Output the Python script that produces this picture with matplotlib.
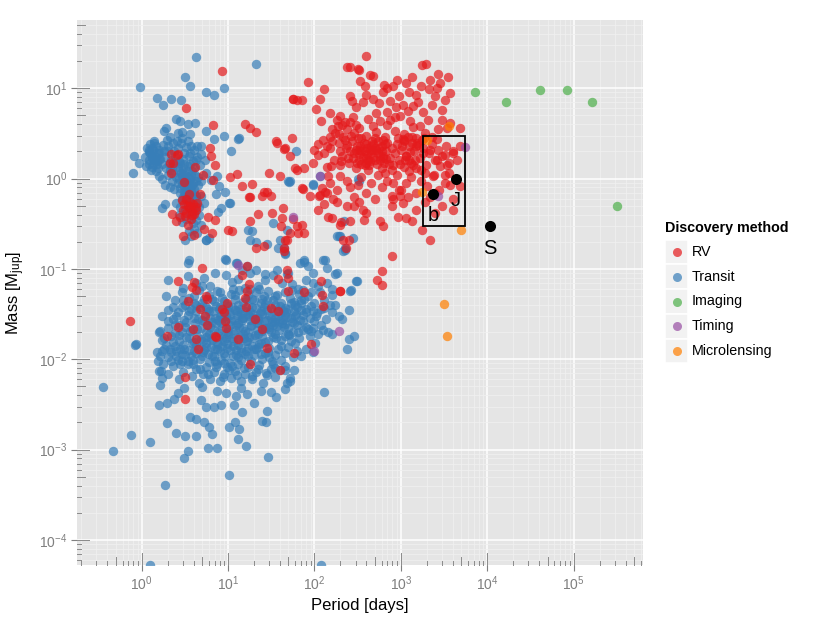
import matplotlib
matplotlib.use('Agg')
import matplotlib.pyplot as plt
from matplotlib.patches import Rectangle
from matplotlib.lines import Line2D

plt.rcParams['font.family'] = ['Liberation Sans', 'DejaVu Sans']
plt.rcParams['mathtext.fontset'] = 'custom'
plt.rcParams['mathtext.rm'] = 'Liberation Sans'
plt.rcParams['mathtext.it'] = 'Liberation Sans:italic'
plt.rcParams['mathtext.bf'] = 'Liberation Sans:bold'

# ---------------- data: (period [days], mass [M_jup]) ----------------
transit = [
    # upper scattered
    (4.3,22),(21,18.5),(0.95,10.3),(3.2,13.5),(3.6,10.5),(5.6,9.0),(6.8,8.5),(8.9,10.1),(1.5,7.8),(1.76,6.6),(2.2,7.7),(2.87,7.4),
    # hot Jupiters
    (2.5,4.6),(2.75,4.3),(3.4,4.0),(4.1,4.1),(1.9,3.6),(1.8,3.4),(2.95,3.3),(3.6,3.1),(5.5,3.4),(6.8,2.75),(8.9,3.0),(13.3,2.8),
    (1.39,2.48),(1.33,2.19),(1.22,2.1),(1.58,2.1),(1.8,2.0),(0.81,1.8),(0.93,1.5),(0.79,1.15),(1.11,1.39),(1.27,1.26),(1.45,1.2),
    (1.58,1.06),(1.73,0.98),(2.6,3.2),(2.95,2.8),(3.4,2.6),(3.7,2.3),(4.0,2.1),(4.4,2.3),(4.8,2.3),(3.05,1.94),(3.5,1.76),(2.8,1.49),
    (3.4,1.37),(3.85,1.2),(2.95,1.06),(2.6,0.9),(2.26,0.93),(2.36,0.76),(2.8,0.69),(3.4,0.69),(4.0,0.76),(4.8,0.64),(5.2,0.54),
    (4.6,0.49),(3.7,0.54),(2.8,0.49),(2.47,0.54),(5.5,1.15),(6.3,0.97),(7.5,1.06),(7.8,0.82),(9.3,0.72),(7.3,0.68),(10.2,0.54),
    (8.2,0.47),(1.86,0.52),(1.73,0.47),(4.2,0.35),(4.8,0.31),(4.0,0.28),(5.5,0.21),(6.0,0.22),(3.2,0.21),(10.9,2.0),(13.0,2.77),
    (1.3,1.7),(1.5,1.55),(1.7,1.45),(1.9,1.3),(2.1,1.25),(2.3,1.15),(2.5,1.05),(2.7,1.2),(3.0,1.3),(3.2,1.1),(3.3,0.95),(3.6,1.0),
    (3.9,0.9),(4.2,0.95),(4.5,0.85),(3.1,0.8),(3.5,0.8),(2.9,0.6),(3.3,0.58),(3.8,0.62),(4.3,0.6),(2.2,1.6),(2.4,1.8),(2.0,2.0),
    (2.6,2.2),(2.3,2.5),(2.0,2.3),(1.6,1.9),(1.45,1.75),(1.2,1.6),(1.25,1.9),(3.9,1.55),(4.4,1.75),(3.0,1.65),(2.7,1.55),(3.6,1.45),
    (4.0,1.3),(4.7,1.4),(3.2,0.45),(3.7,0.4),(4.1,0.44),(3.3,0.36),(2.9,0.33),(3.9,0.32),(3.5,0.26),(3.7,0.23),(4.4,0.25),
    (1.35,1.45),(1.55,1.3),(1.65,1.65),(1.85,1.75),(2.05,1.45),(2.25,1.35),(2.45,1.5),(2.65,1.35),(2.85,1.15),(3.05,1.45),
    (3.15,0.95),(3.45,1.2),(3.75,1.1),(4.1,1.1),(3.05,0.72),(3.25,0.75),(3.6,0.66),(4.5,1.05),(4.9,0.95),(2.35,2.0),(2.55,2.6),
    (2.85,2.45),(3.25,2.25),(1.95,2.7),(2.15,2.9),(1.4,2.6),(1.75,2.35),(3.65,1.9),(4.2,1.6),(4.9,1.85),(5.4,1.6),(2.0,1.1),
    (1.85,0.85),(2.15,0.8),(3.55,0.57),(4.25,0.52),(3.9,0.47),(2.7,0.4),(4.6,0.4),(3.4,0.52),
    (1.15,2.2),(1.2,1.95),(1.25,2.4),(1.3,1.8),(1.35,2.05),(1.4,1.6),(1.45,2.3),(1.5,1.45),(1.55,1.9),(1.6,1.65),(1.1,1.75),
    (1.2,1.45),(1.3,1.35),(2.7,1.0),(2.9,0.88),(3.0,1.15),(3.1,0.98),(3.3,0.85),(3.4,1.05),(3.5,0.92),(3.6,0.78),(3.8,0.85),
    (4.0,0.7),(3.2,0.68),(3.5,0.6),(3.0,0.62),(2.8,0.78),(3.7,0.73),(4.2,0.65),
    # intermediate
    (19,0.26),(21,0.2),(33,0.32),(38,0.17),(50,0.93),(61,2.0),(9.3,0.13),(3.5,0.127),(51,0.91),(96,0.87),(330,0.95),(115,1.06),
    (52,0.93),(95,0.86),(320,1.0),(44,0.17),(46,0.145),(48,0.27),(28,0.19),(180,0.23),(200,0.23),(225,0.17),(220,0.34),(7.7,0.43),
    (10.5,0.54),(5.6,0.21),(17,0.27),(18,0.21),(40,0.21),(46,0.15),(75,0.127),(280,0.22),(225,0.164),(190,0.23),
    (3.45,0.117),(9.5,0.127),(12.2,0.117),(16.6,0.107),(21,0.098),(27,0.087),(37,0.098),(50,0.091),(68,0.117),(85,0.107),
    (133,0.127),(140,0.103),(180,0.091),(300,0.074),(265,0.058),(14.5,0.098),(76,0.12),(215,0.157),(127,0.127),(172,0.087),
    (97,0.07),(74,0.059),(310,0.073),(260,0.057),(158,0.052),(12.7,0.117),
    # dense small-planet cloud
    (2.0,0.075),(3.4,0.083),(5.3,0.08),(7.0,0.09),(9.5,0.085),(11,0.072),(13,0.078),(18,0.09),(22,0.065),(27,0.075),(33,0.085),
    (42,0.07),(55,0.068),(65,0.06),(80,0.075),(95,0.09),(110,0.065),(140,0.07),(160,0.06),(6.2,0.065),(4.3,0.07),(15.5,0.062),
    (48,0.088),(3.0,0.062),
    (1.9,0.05),(2.4,0.045),(2.9,0.055),(3.5,0.048),(4.0,0.042),(4.6,0.058),(5.3,0.047),(6.0,0.052),(6.8,0.044),(7.5,0.057),
    (8.5,0.048),(9.6,0.041),(10.8,0.053),(12,0.046),(13.5,0.058),(15,0.043),(17,0.051),(19,0.046),(21,0.055),(24,0.042),(26,0.05),
    (29,0.057),(33,0.045),(37,0.052),(41,0.042),(46,0.055),(52,0.048),(58,0.043),(66,0.053),(75,0.046),(85,0.05),(100,0.042),
    (115,0.055),(130,0.045),(150,0.04),(3.2,0.04),(11.5,0.06),(23,0.06),
    (1.7,0.03),(2.0,0.035),(2.3,0.028),(2.6,0.033),(2.9,0.038),(3.1,0.027),(3.4,0.031),(3.7,0.036),(4.0,0.029),(4.3,0.034),
    (4.7,0.038),(5.0,0.027),(5.4,0.032),(5.8,0.036),(6.2,0.029),(6.7,0.034),(7.2,0.039),(7.7,0.027),(8.3,0.031),(8.9,0.036),
    (9.5,0.028),(10.2,0.033),(11,0.038),(11.8,0.027),(12.7,0.031),(13.6,0.036),(14.6,0.029),(15.7,0.034),(16.8,0.039),(18,0.027),
    (19.5,0.032),(21,0.037),(22.5,0.029),(24,0.034),(26,0.038),(28,0.027),(30,0.031),(32,0.036),(34.5,0.029),(37,0.034),(40,0.039),
    (43,0.027),(46,0.031),(50,0.036),(54,0.029),(58,0.034),(63,0.038),(68,0.027),(74,0.031),(80,0.036),(88,0.029),(96,0.034),
    (105,0.03),(118,0.036),(135,0.028),(160,0.033),(190,0.03),(8.0,0.03),(12,0.035),(17.5,0.03),(25,0.032),(35,0.026),(45,0.037),
    (60,0.03),(70,0.035),(210,0.028),(175,0.04),(250,0.035),
    (1.6,0.02),(1.8,0.017),(2.0,0.022),(2.2,0.018),(2.4,0.024),(2.7,0.016),(2.9,0.02),(3.2,0.023),(3.5,0.017),(3.8,0.021),
    (4.1,0.025),(4.4,0.018),(4.8,0.022),(5.1,0.016),(5.5,0.02),(5.9,0.024),(6.3,0.017),(6.8,0.021),(7.3,0.025),(7.8,0.018),
    (8.4,0.022),(9.0,0.016),(9.7,0.02),(10.4,0.024),(11.2,0.017),(12,0.021),(12.9,0.025),(13.8,0.018),(14.8,0.022),(16,0.016),
    (17.2,0.02),(18.5,0.024),(20,0.017),(21.5,0.021),(23,0.025),(25,0.018),(27,0.022),(29,0.016),(31,0.02),(33.5,0.024),(36,0.017),
    (39,0.021),(42,0.025),(45,0.018),(49,0.022),(53,0.016),(57,0.02),(62,0.024),(67,0.017),(73,0.021),(80,0.023),(88,0.018),
    (97,0.022),(110,0.019),(125,0.021),(145,0.02),(6.0,0.019),(10,0.019),(15,0.019),(22,0.019),(30,0.023),(50,0.019),
    (1.5,0.012),(1.65,0.011),(1.8,0.013),(2.0,0.0105),(2.2,0.012),(2.4,0.014),(2.6,0.0098),(2.9,0.0115),(3.1,0.013),(3.4,0.0095),
    (3.7,0.011),(4.0,0.0125),(4.3,0.0145),(4.7,0.0102),(5.1,0.012),(5.5,0.0138),(6.0,0.0093),(6.5,0.011),(7.0,0.013),(7.6,0.0148),
    (8.2,0.0099),(8.9,0.0117),(9.6,0.0134),(10.4,0.0092),(11.3,0.011),(12.2,0.0128),(13.2,0.0145),(14.3,0.0098),(15.5,0.0115),
    (16.8,0.0133),(18.2,0.0095),(19.7,0.0112),(21.3,0.013),(23,0.0147),(25,0.01),(27,0.0118),(29.5,0.0135),(32,0.0095),
    (35,0.0112),(38,0.013),(41,0.0099),(45,0.0118),(50,0.0136),(56,0.0105),(62,0.0125),(70,0.011),(80,0.013),(95,0.012),
    (1.7,0.0125),(2.5,0.0125),
    (1.6,0.0075),(2.0,0.0068),(2.3,0.0085),(2.7,0.006),(3.0,0.0072),(3.4,0.0088),(3.8,0.0065),(4.2,0.0078),(4.6,0.0055),
    (5.1,0.0068),(5.6,0.0083),(6.2,0.006),(6.8,0.0073),(7.4,0.0088),(8.1,0.0057),(8.9,0.0068),(9.8,0.0082),(10.8,0.0062),
    (11.9,0.0075),(13,0.0088),(14.3,0.0058),(15.7,0.0069),(17.2,0.0082),(19,0.006),(21,0.0073),(23,0.0087),(25.5,0.0055),
    (28,0.0067),(31,0.0079),(35,0.0063),(40,0.0076),(46,0.0085),(52,0.0062),(58,0.0077),(48,0.0054),
    (5.5,0.015),(6.5,0.026),(7.5,0.013),(8.5,0.028),(9.5,0.017),(10.5,0.031),(11.5,0.014),(12.5,0.024),(14,0.012),(15,0.029),
    (16.5,0.016),(18,0.033),(20,0.013),(22,0.027),(24,0.015),(26.5,0.022),(29,0.012),(32,0.026),(35,0.019),(38,0.03),(41,0.014),
    (44,0.023),(47,0.033),(55,0.026),(60,0.015),(4.5,0.028),(3.8,0.015),(3.3,0.026),(2.8,0.013),(2.5,0.03),(7,0.0095),(9,0.009),
    (11,0.0085),(13,0.0105),(17,0.011),(24,0.0115),(30,0.0105),(6,0.034),(8,0.038),(13,0.04),(20,0.045),(28,0.045),(18,0.06),
    (8,0.055),(5,0.065),
    (2.1,0.013),(2.3,0.0155),(2.5,0.011),(2.7,0.0185),(2.8,0.0088),(3.0,0.0145),(3.2,0.0112),(3.3,0.0175),(3.5,0.0128),
    (3.6,0.0205),(3.9,0.0098),(4.0,0.0155),(4.2,0.0118),(4.4,0.0215),(4.6,0.0135),(4.9,0.0168),(5.0,0.0108),(5.2,0.0265),
    (5.3,0.0128),(5.6,0.0178),(5.8,0.0115),(6.1,0.0225),(6.3,0.0138),(6.6,0.0162),(6.9,0.0108),(7.1,0.0285),(7.4,0.0152),
    (7.7,0.0198),(8.0,0.0122),(8.3,0.0255),(8.6,0.0142),(8.8,0.0178),(9.2,0.0108),(9.4,0.0305),(9.8,0.0148),(10.1,0.0215),
    (10.6,0.0128),(10.9,0.0265),(11.4,0.0158),(11.8,0.0192),(12.3,0.0112),(12.6,0.0345),(13.1,0.0165),(13.5,0.0228),
    (14.0,0.0135),(14.5,0.0275),(15.1,0.0172),(15.8,0.0208),(16.3,0.0125),(16.9,0.0315),(17.5,0.0178),(18.3,0.0235),
    (19.0,0.0142),(19.8,0.0285),(20.6,0.0185),(21.5,0.0255),(22.4,0.0138),(23.5,0.0325),(24.6,0.0205),(25.8,0.0268),
    (27.0,0.0155),(28.5,0.0355),(29.8,0.0215),(31.2,0.0285),(33.0,0.0175),(34.8,0.0395),(36.5,0.0232),(38.5,0.0268),
    (40.5,0.0162),(43.0,0.0345),(45.5,0.0245),(48.0,0.0295),(51.0,0.0185),(54.0,0.0415),(57.5,0.0255),(61.0,0.0315),
    (65.0,0.0198),(69.0,0.0425),(74.0,0.0265),(79.0,0.0335),(85.0,0.0215),(91.0,0.0385),(100,0.0265),(108,0.0325),(118,0.024),
    (130,0.037),(4.7,0.0078),(5.9,0.0068),(7.2,0.0082),(8.7,0.0064),(10.3,0.0076),(12.8,0.0067),(15.2,0.0081),(18.8,0.0066),
    (22.5,0.0078),(27.5,0.0071),(33.5,0.0088),(2.2,0.0095),(2.9,0.0095),(3.9,0.0088),(2.4,0.0195),(2.0,0.0265),(2.3,0.038),
    (3.0,0.045),(4.0,0.05),(5.0,0.042),(6.5,0.047),(9.0,0.044),(12.0,0.052),(16,0.047),(25,0.046),(35,0.05),(55,0.058),
    (70,0.045),(90,0.055),(7.8,0.036),(10.0,0.039),(14.0,0.032),(19.0,0.038),(27.0,0.041),(40,0.033),(60,0.04),(3.5,0.034),
    (4.2,0.04),(5.5,0.038),(2.7,0.024),(1.9,0.0145),(1.7,0.0165),(1.55,0.0095),(1.75,0.0088),
    (5.0,0.0049),(7.5,0.0044),(12.5,0.0039),(36,0.0038),(14,0.0048),(24,0.0045),(9.5,0.0042),
    # sparse low-mass tail
    (0.36,0.0049),(0.46,0.00096),(0.75,0.00144),(0.85,0.0146),(0.84,0.0143),(1.24,0.00121),(1.86,0.00041),(1.95,0.00196),
    (2.47,0.00154),(3.16,0.00141),(4.2,0.00141),(3.45,0.00096),(3.08,0.0008),(3.6,0.0023),(4.2,0.0022),(5.2,0.002),(6.0,0.0018),
    (6.6,0.0015),(5.8,0.00103),(7.5,0.00103),(10.2,0.00052),(10.2,0.0018),(12,0.002),(13.3,0.0017),(13,0.0013),(16,0.0011),
    (14.5,0.0026),(25,0.0021),(27.5,0.002),(28,0.0027),(29,0.00083),(130,0.0043),(240,0.0129),(250,0.0166),(290,0.0183),
    (1.25,5.3e-5),(120,5.3e-5),(1.63,0.0204),(1.66,0.0075),(1.73,0.0062),(1.61,0.0052),(1.6,0.0031),(1.95,0.0033),(2.36,0.0036),
    (2.6,0.0042),(3.1,0.0048),(4.8,0.0035),(5.5,0.003),(6.8,0.003),(8.2,0.0031),(11.6,0.0031),(16.6,0.0041),(19.8,0.0033),
    (31,0.0043),(35,0.0081),(46,0.0077),(52,0.0057),(46,0.0047),(90,0.0204),(102,0.015),(160,0.019),
]

rv = [
    # short-period giants
    (8.4,15.4),(3.3,6.0),(6.7,3.9),(6.1,2.2),(6.3,1.8),(7.1,1.4),(2.16,1.87),(2.6,1.87),(2.1,1.5),(2.2,1.16),(4.1,1.33),(5.1,1.09),
    (6.7,0.97),(3.1,0.91),(3.5,0.68),(4.7,0.68),(3.1,0.52),(3.5,0.47),(4.4,0.54),(3.0,0.45),(3.3,0.42),(3.8,0.44),(4.2,0.48),
    (2.26,0.41),(2.8,0.38),(3.4,0.31),(3.0,0.23),(4.0,0.24),(5.2,0.28),(5.9,0.38),(7.0,0.35),(6.5,0.25),(11,0.26),(2.56,1.84),
    (2.33,1.49),(2.9,0.58),(3.6,0.5),(4.0,0.41),(3.2,0.39),(3.7,0.36),(2.5,0.34),(9.9,0.27),
    (3.3,0.6),(3.6,0.55),(3.9,0.52),(3.4,0.5),(3.8,0.4),(4.3,0.45),
    # intermediate periods
    (10.6,1.04),(12.7,1.13),(14.5,0.82),(19,0.87),(18,0.63),(26,0.72),(31,0.64),(25,0.64),(15.9,4.0),(18,3.6),(21,3.3),(37,2.5),
    (44,2.13),(55,2.8),(52,1.8),(40,1.08),(57,7.6),(63,7.5),(32,0.42),(43,0.47),(22,0.41),(18,0.34),(57,0.36),(41,0.30),(48,0.21),
    (44,0.17),(21,0.17),(26,0.18),(60,1.3),(42,0.37),(52,0.25),(62,0.30),(75,0.25),(17.6,0.63),(28,0.72),(30,1.15),
    (113,0.64),(133,0.72),(165,0.59),(160,0.37),(237,0.5),(203,0.33),(250,0.21),(98,2.1),(111,1.84),(138,2.3),(127,2.7),
    (157,1.37),(145,1.06),(121,0.79),(138,0.69),(89,0.64),(84,11.7),(130,9.8),(57,7.7),(72,7.4),(117,7.6),(105,5.9),
    (153,5.3),(200,4.9),(120,4.3),(160,3.5),(180,4.5),(190,3.1),(225,2.7),(36,2.6),(45,2.2),(63,1.26),(72,0.79),(74,0.76),
    (117,0.66),(130,0.52),(145,0.38),(200,0.31),(72,0.31),(65,0.25),(46,0.21),(215,0.21),(230,0.17),(110,0.45),(180,0.55),
    # long-period giant cluster
    (390,23),(240,17),(330,16),(1750,18),(1950,18.5),(255,17),(320,16.3),(260,8.3),(270,7.2),(340,12),(385,10.5),(440,14),
    (480,13.6),(640,11),(690,10.1),(1160,11.4),(1330,13.5),(2160,12.4),(2820,11.4),(2600,10),(2100,9.8),(1500,8.4),(1580,7.1),
    (2500,8.2),(400,8.5),(480,7.6),(560,6.8),(620,9),(750,7.2),(870,6.2),(950,8.3),(1050,6.6),(1200,5.6),(1400,6.3),(1800,5.4),
    (2300,6.5),(3000,5.8),(520,5.3),(700,5.5),(300,6.2),(360,7),(820,10.5),(900,12.5),(1250,9.2),(1700,10.5),(3200,7.5),
    (3700,8.8),(2700,14.5),(3500,13.5),
    (330,3.6),(480,3.8),(575,4.3),(750,4.5),(980,4.9),(1270,4.3),(1660,3.8),(2050,4.5),(2700,3.5),(3400,3.6),(3700,4.1),(4800,3.6),
    (260,4.2),(290,3.2),(400,3.0),(420,4.6),(520,3.3),(650,2.9),(700,3.9),(850,3.4),(1100,3.1),(1400,3.7),(1500,2.8),(1900,3.2),
    (2300,2.9),(860,4.8),(620,2.7),(350,2.8),(280,4.8),(210,3.9),(150,2.9),(1050,2.75),(2600,2.75),(3000,4.5),
    (110,2.4),(130,1.9),(150,2.2),(170,1.6),(190,2.5),(210,1.8),(230,2.2),(250,1.5),(270,2.6),(290,1.9),(310,2.3),(330,1.6),
    (350,2.0),(370,2.5),(390,1.7),(410,2.2),(430,1.4),(450,1.9),(470,2.4),(500,1.6),(520,2.1),(550,2.6),(580,1.8),(610,2.3),
    (640,1.5),(670,2.0),(700,2.5),(740,1.7),(780,2.2),(820,1.4),(860,1.9),(900,2.4),(950,1.6),(1000,2.1),(1080,2.6),(1150,1.8),
    (1230,2.3),(1320,1.5),(1420,2.0),(1530,2.5),(1650,1.7),(1800,2.2),(1950,1.4),(2100,1.9),(2300,2.4),(2500,1.6),(2700,2.1),
    (3000,1.8),(3300,2.3),(3600,1.5),(4000,2.0),(4500,1.6),(300,1.3),(420,1.25),(600,1.3),(800,1.25),(1100,1.35),(1500,1.3),
    (380,2.0),(440,2.1),(480,1.75),(560,2.2),(360,1.75),(260,2.0),(200,1.4),(140,1.35),(95,1.5),(75,1.3),(340,2.3),(460,2.6),
    (540,1.9),(620,1.7),(400,1.5),(330,2.1),(720,1.45),(1250,1.6),(280,1.7),(310,1.5),(320,2.8),(380,1.4),(420,1.6),(450,2.3),
    (500,2.8),(530,1.45),(600,2.0),(650,2.4),(680,1.65),(300,2.05),(350,1.45),(410,1.85),(470,2.05),(570,1.6),(440,1.55),
    (390,2.4),(330,1.85),(500,2.2),(620,1.8),
    (160,2.6),(175,3.2),(195,2.0),(215,2.9),(235,3.5),(245,1.7),(265,3.0),(205,1.55),(185,3.8),(240,2.35),(300,3.9),(225,4.2),
    (920,2.8),(980,1.45),(1030,2.3),(1120,1.6),(1200,2.9),(1280,1.95),(1350,2.5),(1450,1.6),(1600,2.35),(1700,1.25),(1850,2.8),
    (1250,1.2),
    (1100,2.7),(1330,2.9),(1500,2.3),(1750,2.7),(1150,1.77),(1400,1.43),(1800,1.92),(2200,2.1),(2600,1.62),(3250,1.84),
    (2850,1.37),(3400,1.43),(4000,1.92),(4800,2.28),(1900,1.15),(2350,1.06),(2000,0.82),(2500,0.69),(3250,1.1),(3700,0.86),
    (4800,0.82),(820,0.9),(940,0.75),(985,0.64),(820,0.59),(1070,0.54),(1160,0.37),(1330,0.34),
    (200,1.06),(150,0.9),(180,0.75),(240,0.95),(290,0.63),(320,0.85),(350,1.05),(400,0.7),(450,0.9),(500,0.6),(550,1.1),
    (600,0.8),(700,0.95),(800,0.65),(900,1.1),(1000,0.75),(1150,0.9),(1300,1.05),(1500,0.7),(1700,0.95),(2400,1.1),
    (2800,0.75),(3200,0.9),(2200,0.62),(4000,0.6),(3600,1.15),(260,0.8),(650,1.15),(1200,0.62),(290,0.5),(330,0.55),(360,0.45),
    (400,0.42),(260,0.34),(370,0.35),(575,0.34),(620,0.3),(930,0.38),(1750,0.27),(2200,0.21),(800,0.5),(1500,0.45),(2500,0.42),
    (3000,0.5),(1900,0.55),(4000,0.45),
    (780,0.138),(600,0.094),(530,0.076),(600,0.067),(200,0.057),(44,0.16),
    # low-mass RV planets
    (0.73,0.0267),(2.65,0.073),(4.0,0.072),(4.2,0.059),(3.85,0.063),(5.0,0.102),(3.4,0.044),(5.5,0.05),(5.7,0.046),(4.7,0.036),
    (2.6,0.0228),(1.95,0.0183),(3.9,0.0214),(4.2,0.0166),(4.5,0.013),(5.4,0.030),(5.7,0.024),(7.1,0.0183),(8.5,0.036),
    (8.9,0.033),(9.3,0.0265),(9.5,0.0224),(9.7,0.042),(16.6,0.107),(14.5,0.085),(17.3,0.069),(16.6,0.057),(15.8,0.048),
    (12.9,0.0168),(16.3,0.038),(20.3,0.028),(25,0.0217),(28,0.0132),(31.5,0.037),(38,0.034),(38,0.078),(50,0.08),(48,0.098),
    (50,0.057),(75,0.055),(120,0.073),(123,0.052),(125,0.039),(195,0.057),(90,0.0149),(58,0.0116),(40,0.0076),(18,0.0088),
    (3.2,0.0063),(3.2,0.0036),(7.2,0.0175),
]

imaging = [(7200,9.2),(16400,7.1),(40400,9.65),(83000,9.65),(165000,7.1),(314000,0.50)]
timing = [(5500,2.26),(2670,0.65),(190,0.0205),(98,0.0123),(57,0.38),(117,1.06),(13,0.112)]
microlensing = [(4950,0.273),(3150,0.0414),(3400,0.0179),(1740,0.72),(3600,3.86),(2020,2.7)]

solar_names = ['b', 'J', 'S']
solar_period = [2380, 4333, 10759]
solar_mass = [0.68, 1.0, 0.30]

box_period = (1800, 5500)
box_mass = (0.3, 3.0)

methods = ['RV', 'Transit', 'Imaging', 'Timing', 'Microlensing']
method_colors = {'RV': '#E41A1C', 'Transit': '#377EB8', 'Imaging': '#4DAF4A',
                 'Timing': '#984EA3', 'Microlensing': '#FF7F00'}
method_data = {'RV': rv, 'Transit': transit, 'Imaging': imaging,
               'Timing': timing, 'Microlensing': microlensing}

# ---------------- figure ----------------
W, H = 830, 623
fig = plt.figure(figsize=(W/100, H/100), dpi=100)
L, R, T, B = 76.7, 643.3, 20, 565
ax = fig.add_axes([L/W, 1-B/H, (R-L)/W, (B-T)/H])
ax.set_facecolor('#E5E5E5')
for s in ax.spines.values():
    s.set_visible(False)
ax.set_xscale('log')
ax.set_yscale('log')
xlim = (0.177, 6.4e5)
ylim = (5.28e-5, 57)
ax.set_xlim(*xlim)
ax.set_ylim(*ylim)

xmaj = [1, 10, 100, 1e3, 1e4, 1e5]
ymaj = [1e-4, 1e-3, 1e-2, 1e-1, 1, 10]
ax.set_xticks(xmaj)
ax.set_xticklabels([r'$10^{%d}$' % e for e in range(0, 6)])
ax.set_yticks(ymaj)
ax.set_yticklabels([r'$10^{%d}$' % e for e in range(-4, 2)])
xmin_t = [m*10.0**e for e in range(-1, 6) for m in range(2, 10) if xlim[0] <= m*10.0**e <= xlim[1]]
ymin_t = [m*10.0**e for e in range(-5, 2) for m in range(2, 10) if ylim[0] <= m*10.0**e <= ylim[1]]
ax.set_xticks(xmin_t, minor=True)
ax.set_yticks(ymin_t, minor=True)
ax.tick_params(which='major', length=4.3, width=0.8, color='#7F7F7F', labelcolor='#7F7F7F',
               labelsize=10, pad=2.5)
ax.tick_params(which='minor', length=0, labelleft=False, labelbottom=False)
ax.grid(which='minor', color='#F0F0F0', lw=0.55)
ax.grid(which='major', color='white', lw=1.1)
ax.set_axisbelow(True)

# log ticks inside the panel (annotation_logticks style)
lt_col = '#8A8A8A'
def tick_len(m):
    return 12 if m == 1 else (8 if m == 5 else 4)
for e in range(-1, 6):
    for m in range(1, 10):
        v = m*10.0**e
        if xlim[0] <= v <= xlim[1]:
            ax.plot([v, v], [0, tick_len(m)/(B-T)], transform=ax.get_xaxis_transform(),
                    color=lt_col, lw=0.7, zorder=1.5, clip_on=False)
for e in range(-5, 2):
    for m in range(1, 10):
        v = m*10.0**e
        if ylim[0] <= v <= ylim[1]:
            ax.plot([0, tick_len(m)/(R-L)], [v, v], transform=ax.get_yaxis_transform(),
                    color=lt_col, lw=0.7, zorder=1.5, clip_on=False)

# points
order = ['Transit', 'RV', 'Imaging', 'Timing', 'Microlensing']
for mth in order:
    d = method_data[mth]
    ax.scatter([p for p, m in d], [m for p, m in d], s=46, color=method_colors[mth],
               alpha=0.7, linewidths=0, zorder=3)

ax.add_patch(Rectangle((box_period[0], box_mass[0]), box_period[1]-box_period[0],
                       box_mass[1]-box_mass[0], fill=False, ec='black', lw=1.3, zorder=4))
ax.scatter(solar_period, solar_mass, s=64, color='black', linewidths=0, zorder=5)
for n, p, m in zip(solar_names, solar_period, solar_mass):
    ax.annotate(n, (p, m), xytext=(0, -16), textcoords='offset points', ha='center', va='center',
                fontsize=14.5, color='black', zorder=6)

ax.set_xlabel('Period [days]', fontsize=12)
ax.set_ylabel(r'Mass [M$_{\mathrm{jup}}$]', fontsize=12)
ax.xaxis.set_label_coords(0.5, (B-598)/(B-T))
ax.yaxis.set_label_coords((27-L)/(R-L), 0.5)

# legend (ggplot style)
fig.text(665/W, 1-228/H, 'Discovery method', fontsize=10.3, fontweight='bold', ha='left', va='center')
for i, mth in enumerate(methods):
    cy = 252 + i*24.75
    fig.patches.append(Rectangle((665/W, 1-(cy+12.4)/H), 23/W, 24.75/H, transform=fig.transFigure,
                                 facecolor='#F2F2F2', edgecolor='white', lw=1.2))
    fig.lines.append(Line2D([676.5/W], [1-cy/H], transform=fig.transFigure, marker='o', ms=6.5,
                            color=method_colors[mth], alpha=0.7, ls='', mew=0))
    fig.text(692/W, 1-cy/H, mth, fontsize=10.3, ha='left', va='center')

fig.savefig('out.png', dpi=100)
